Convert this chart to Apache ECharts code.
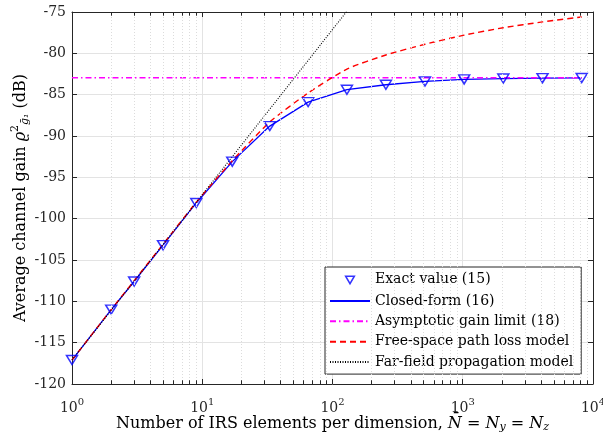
<!DOCTYPE html>
<html>
<head>
<meta charset="utf-8">
<script src="https://cdn.jsdelivr.net/npm/echarts@6/dist/echarts.min.js"></script>
<style>
html, body { margin: 0; padding: 0; background: #fff; }
#chart { width: 603px; height: 436px; }
</style>
</head>
<body>
<div id="chart"></div>
<script>
// N per dimension (markers at 2^k + 1)
var nVals = [1, 2, 3, 5, 9, 17, 33, 65, 129, 257, 513, 1025, 2049, 4097, 8193];
var exactVals = [-117.1, -111.0, -107.6, -103.2, -98.1, -93.1, -88.8, -85.9, -84.4, -83.8, -83.4, -83.15, -83.05, -83.0, -82.98];
var closedVals = [-117.1, -111.0, -107.6, -103.2, -98.1, -93.1, -88.8, -85.9, -84.4, -83.8, -83.4, -83.15, -83.05, -83.0, -82.98];
var limitVal = -82.95;
var freeSpaceVals = [-117.1, -111.0, -107.5, -103.1, -98.0, -93.0, -88.3, -84.8, -81.9, -80.2, -78.9, -77.8, -76.9, -76.2, -75.6];
var farFieldN = [1, 150];
var farFieldVals = [-117.1, -73.6];
var minorX = [2, 3, 4, 5, 6, 7, 8, 9, 20, 30, 40, 50, 60, 70, 80, 90,
    200, 300, 400, 500, 600, 700, 800, 900, 2000, 3000, 4000, 5000, 6000, 7000, 8000, 9000];
var yMin = -120, yMax = -75, yStep = 5;
var names = ['Exact value (15)', 'Closed-form (16)', 'Asymptotic gain limit (18)',
    'Free-space path loss model', 'Far-field propagation model'];

var FONT = 'DejaVu Serif';
var AXC = '#262626';
var NOSYM = { color: 'rgba(0,0,0,0)', borderColor: 'rgba(0,0,0,0)', borderWidth: 0 };

function pairs(xs, ys) {
    return xs.map(function (x, i) { return [x, ys[i]]; });
}

var minorLines = [];
minorX.forEach(function (x) {
    minorLines.push({ xAxis: x });
    minorLines.push([{ coord: [x, yMin], lineStyle: { color: AXC, type: 'solid', width: 1 } },
                     { coord: [x, yMin + 0.45] }]);
    minorLines.push([{ coord: [x, yMax], lineStyle: { color: AXC, type: 'solid', width: 1 } },
                     { coord: [x, yMax - 0.45] }]);
});

var chart = echarts.init(document.getElementById('chart'));
var baseX = {
    type: 'log',
    logBase: 10,
    min: 1,
    max: 10000,
    axisLine: { lineStyle: { color: AXC, width: 1 } },
    axisTick: { inside: true, length: 5, lineStyle: { color: AXC } }
};
var baseY = {
    type: 'value',
    min: yMin,
    max: yMax,
    interval: yStep,
    axisLine: { show: true, lineStyle: { color: AXC, width: 1 } },
    axisTick: { show: true, inside: true, length: 5, lineStyle: { color: AXC } }
};

var option = {
    animation: false,
    grid: { left: 72, right: 10, top: 12, bottom: 52, containLabel: false, outerBoundsMode: 'none' },
    xAxis: [
        Object.assign({}, baseX, {
            position: 'bottom',
            splitLine: { show: true, lineStyle: { color: '#e3e3e3', width: 1 } },
            axisLabel: {
                margin: 17,
                formatter: function (v) {
                    return '{b|10}{e|' + Math.round(Math.log10(v)) + '}';
                },
                rich: {
                    b: { fontFamily: FONT, fontSize: 14, color: '#262626', lineHeight: 14 },
                    e: { fontFamily: FONT, fontSize: 10, color: '#262626', lineHeight: 10, padding: [0, 0, 12, 0] }
                }
            },
            name: '{t|Number of IRS elements per dimension, }{i|N\u0304}{t| = }{i|N}{s|y}{t| = }{i|N}{s|z}',
            nameLocation: 'middle',
            nameMoveOverlap: false,
            nameGap: 30,
            nameTextStyle: {
                rich: {
                    t: { fontFamily: FONT, fontSize: 16, color: '#000', lineHeight: 20 },
                    i: { fontFamily: FONT, fontSize: 16, fontStyle: 'italic', color: '#000', lineHeight: 20 },
                    s: { fontFamily: FONT, fontSize: 11, fontStyle: 'italic', color: '#000', padding: [7, 0, 0, 0] }
                }
            }
        }),
        Object.assign({}, baseX, {
            position: 'top',
            splitLine: { show: false },
            axisLabel: { show: false }
        })
    ],
    yAxis: [
        Object.assign({}, baseY, {
            position: 'left',
            splitLine: { show: true, lineStyle: { color: '#e3e3e3', width: 1 } },
            axisLabel: { margin: 6, fontFamily: FONT, fontSize: 14, color: '#262626' },
            name: '{t|Average channel gain }{i|\u03f1}{s|2}{u|\u1e21\u2081}{t| (dB)}',
            nameLocation: 'middle',
            nameRotate: 90,
            nameMoveOverlap: false,
            nameGap: 40,
            nameTextStyle: {
                rich: {
                    t: { fontFamily: FONT, fontSize: 16, color: '#000' },
                    i: { fontFamily: FONT, fontSize: 16, fontStyle: 'italic', color: '#000' },
                    s: { fontFamily: FONT, fontSize: 11, color: '#000', padding: [0, 0, 11, 0] },
                    u: { fontFamily: FONT, fontSize: 11, fontStyle: 'italic', color: '#000', padding: [9, 0, 0, 0] }
                }
            }
        }),
        Object.assign({}, baseY, {
            position: 'right',
            splitLine: { show: false },
            axisLabel: { show: false }
        })
    ],
    legend: {
        orient: 'vertical',
        left: 325,
        top: 267,
        itemWidth: 40,
        itemHeight: 14,
        itemGap: 6.4,
        padding: [5, 8, 5, 4],
        backgroundColor: '#fff',
        borderColor: AXC,
        borderWidth: 1,
        borderRadius: 0,
        selectedMode: false,
        textStyle: { fontFamily: FONT, fontSize: 14, color: '#000', lineHeight: 14 },
        data: [
            {
                name: names[0],
                icon: 'path://M0,0M24,16M7,4L17,4L12,12.5Z',
                itemStyle: { color: 'rgba(0,0,0,0)', borderColor: '#0000ff', borderWidth: 1.5 }
            },
            { name: names[1], itemStyle: NOSYM },
            { name: names[2], itemStyle: NOSYM },
            { name: names[3], itemStyle: NOSYM },
            { name: names[4], itemStyle: NOSYM }
        ]
    },
    series: [
        {
            name: 'grid-minor',
            type: 'line',
            data: [],
            z: 1,
            silent: true,
            markLine: {
                silent: true,
                symbol: 'none',
                animation: false,
                label: { show: false },
                lineStyle: { color: '#dcdcdc', type: [1, 2], width: 1 },
                data: minorLines
            }
        },
        {
            name: names[0],
            type: 'scatter',
            z: 4,
            symbol: 'path://M0,0L10,0L5,8.66Z',
            symbolSize: [11, 9],
            itemStyle: { color: 'rgba(0,0,0,0)', borderColor: '#0000ff', borderWidth: 1.5 },
            data: pairs(nVals, exactVals)
        },
        {
            name: names[1],
            type: 'line',
            z: 3,
            symbol: 'none',
            lineStyle: { color: '#0000ff', width: 1.3 },
            itemStyle: NOSYM,
            data: pairs(nVals, closedVals)
        },
        {
            name: names[2],
            type: 'line',
            z: 3,
            symbol: 'none',
            lineStyle: { color: '#ff00ff', width: 1.4, type: [6, 3, 1.5, 3] },
            itemStyle: NOSYM,
            data: [[nVals[0], limitVal], [nVals[nVals.length - 1], limitVal]]
        },
        {
            name: names[3],
            type: 'line',
            z: 3,
            symbol: 'none',
            smooth: 0.2,
            lineStyle: { color: '#ff0000', width: 1.4, type: [6, 4] },
            itemStyle: NOSYM,
            data: pairs(nVals, freeSpaceVals)
        },
        {
            name: names[4],
            type: 'line',
            z: 3,
            symbol: 'none',
            lineStyle: { color: '#000000', width: 1.1, type: [1, 1.5] },
            itemStyle: NOSYM,
            data: pairs(farFieldN, farFieldVals)
        }
    ]
};
chart.setOption(option);
</script>
</body>
</html>
